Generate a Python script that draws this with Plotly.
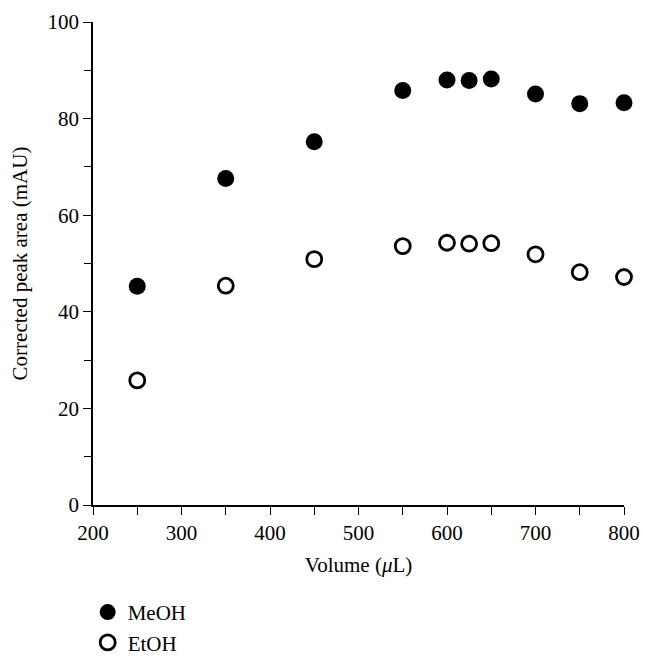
import plotly.graph_objects as go

volume = [250, 350, 450, 550, 600, 625, 650, 700, 750, 800]
meoh = [45.3, 67.6, 75.2, 85.8, 88.0, 87.9, 88.2, 85.1, 83.1, 83.3]
etoh = [25.8, 45.4, 50.9, 53.6, 54.3, 54.1, 54.2, 51.9, 48.2, 47.2]

FONT = "Liberation Serif"
FS = 21

fig = go.Figure()
fig.add_trace(go.Scatter(
    x=volume, y=meoh, mode="markers", name="MeOH",
    marker=dict(symbol="circle", size=17, color="black", line=dict(width=0)),
    cliponaxis=False))
fig.add_trace(go.Scatter(
    x=volume, y=etoh, mode="markers", name="EtOH",
    marker=dict(symbol="circle-open", size=15, color="black", line=dict(width=2.8, color="black")),
    cliponaxis=False))

axis_common = dict(
    showgrid=False, zeroline=False, showline=True, linecolor="black", linewidth=1.5,
    ticks="outside", ticklen=8, tickwidth=1.3, tickcolor="black", automargin=False,
    tickfont=dict(family=FONT, size=FS, color="black"),
)

# page body adds an 8px offset; figure sized to fit the window
fig.update_layout(
    template="none",
    width=646, height=657,
    margin=dict(l=85, r=30, t=14, b=160, autoexpand=False),
    plot_bgcolor="white", paper_bgcolor="white",
    font=dict(family=FONT, size=FS, color="black"),
    xaxis=dict(range=[200, 800], dtick=100, tick0=200,
               minor=dict(dtick=50, ticks="outside", ticklen=8, tickwidth=1.3, tickcolor="black"),
               title=dict(text="Volume (<i>μ</i>L)", font=dict(family=FONT, size=FS), standoff=13),
               **axis_common),
    yaxis=dict(range=[0, 100], dtick=20, tick0=0,
               minor=dict(dtick=10, ticks="outside", ticklen=7, tickwidth=1.3, tickcolor="black"),
               title=dict(text="Corrected peak area (mAU)", font=dict(family=FONT, size=FS), standoff=14),
               **axis_common),
    showlegend=True,
    legend=dict(x=-0.01, xanchor="left", y=-0.18, yanchor="top",
                font=dict(family=FONT, size=FS), itemwidth=30, tracegroupgap=0,
                bgcolor="rgba(0,0,0,0)"),
)

fig.write_html("out.html")
